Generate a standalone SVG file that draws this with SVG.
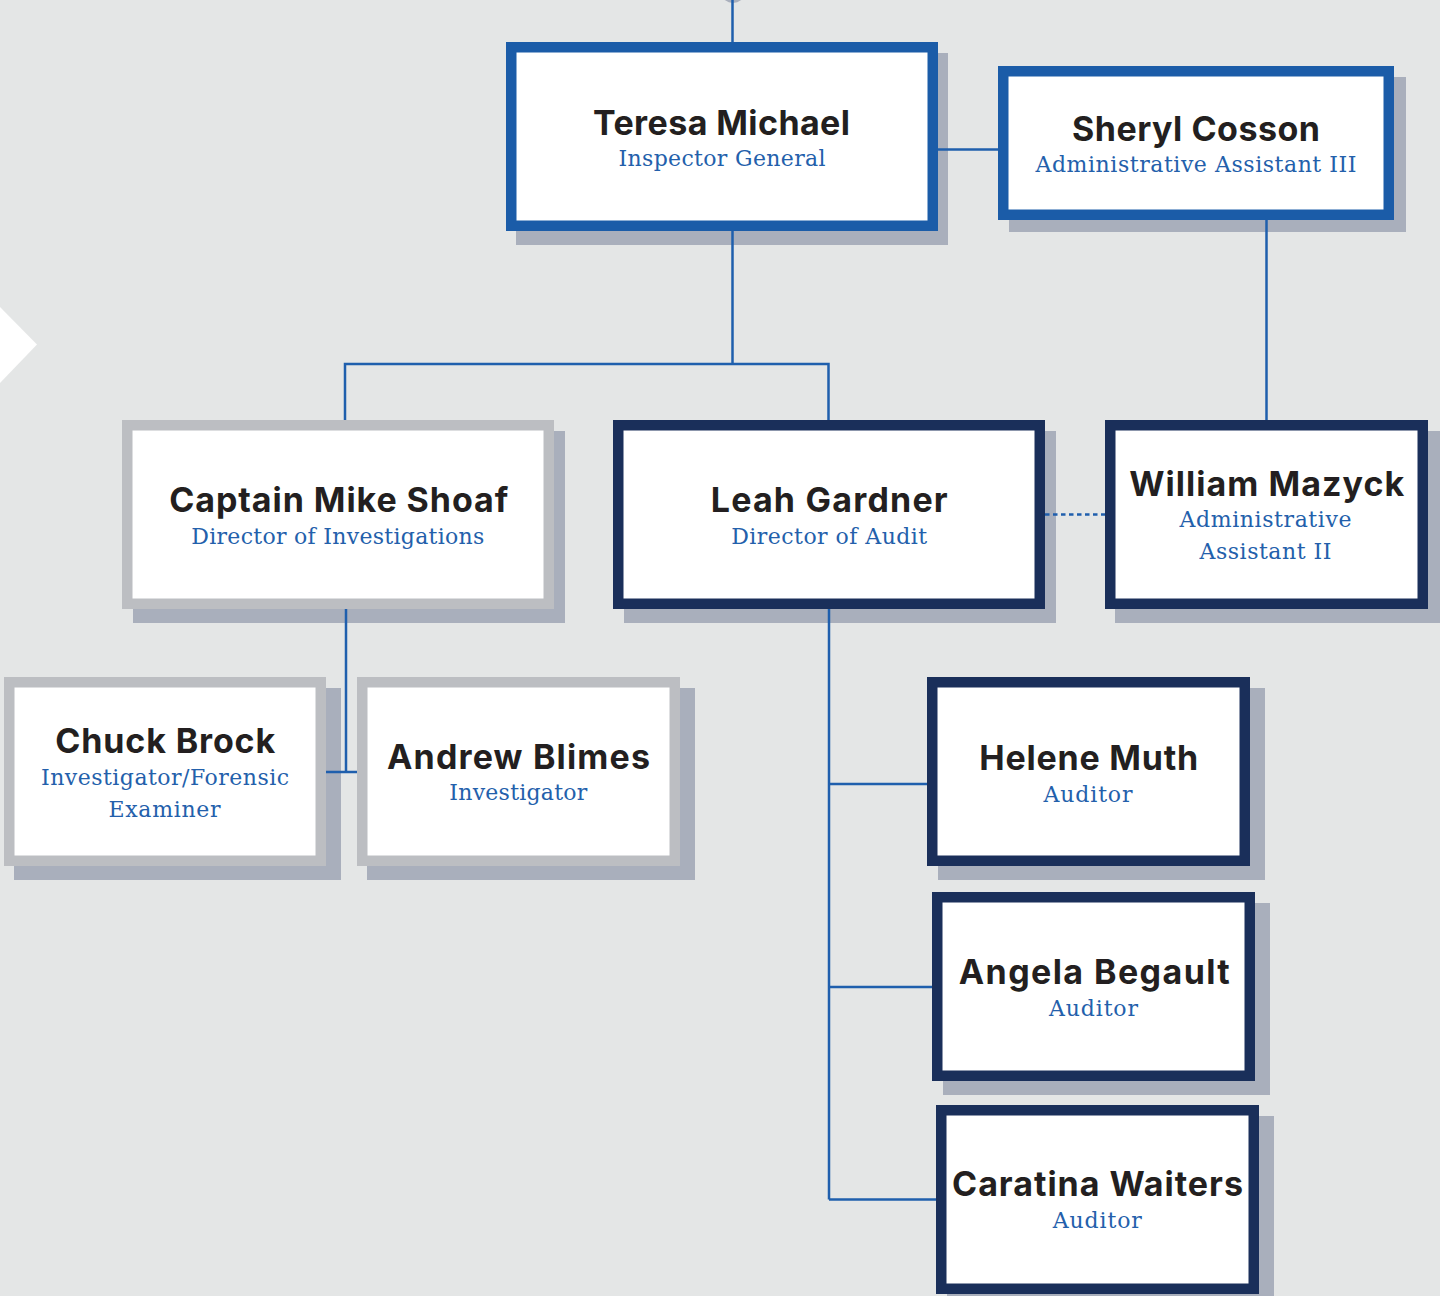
<svg xmlns="http://www.w3.org/2000/svg" width="1440" height="1296" viewBox="0 0 1440 1296">
<style>
.bg{fill:#e4e6e6}
.sh{fill:#a9afbc}
.box{fill:#ffffff;stroke-width:10.5}
.blue{stroke:#1b5ca8}
.navy{stroke:#1a2f5a}
.grey{stroke:#bcbec2}
.ln{fill:none;stroke:#1f5fad;stroke-width:2.5}
.dot{fill:none;stroke:#1f5fad;stroke-width:2.5;stroke-dasharray:4.5 3.5}
.nm{font-family:Inter,"Open Sans","Liberation Sans",sans-serif;font-weight:700;font-size:34px;fill:#231f20;text-anchor:middle}
.tt{font-family:"DejaVu Serif","Liberation Serif",serif;font-size:22px;fill:#2360ab;text-anchor:middle}
</style>
<rect class="bg" x="0" y="0" width="1440" height="1296"/>
<polygon points="0,307 37,344.5 0,383" fill="#ffffff"/>
<ellipse cx="733" cy="-6" rx="11" ry="9" fill="#a9afbc"/>
<g id="teresa-michael">
<rect class="sh" x="516" y="53" width="432" height="192"/>
<rect class="box blue" x="511.25" y="47.25" width="421.5" height="178.5"/>
<text class="nm" x="721.5" y="135" textLength="257">Teresa Michael</text>
<text class="tt" x="722" y="166" textLength="207">Inspector General</text>
</g>
<g id="sheryl-cosson">
<rect class="sh" x="1009" y="77" width="397" height="155"/>
<rect class="box blue" x="1003.25" y="71.25" width="385.5" height="143.5"/>
<text class="nm" x="1196" y="141" textLength="248">Sheryl Cosson</text>
<text class="tt" x="1196" y="172" textLength="321">Administrative Assistant III</text>
</g>
<g id="mike-shoaf">
<rect class="sh" x="133" y="431" width="432" height="192"/>
<rect class="box grey" x="127.25" y="425.25" width="421.5" height="178.5"/>
<text class="nm" x="338.7" y="511.7" textLength="339">Captain Mike Shoaf</text>
<text class="tt" x="337.8" y="544" textLength="293">Director of Investigations</text>
</g>
<g id="leah-gardner">
<rect class="sh" x="624" y="431" width="432" height="192"/>
<rect class="box navy" x="618.25" y="425.25" width="421.5" height="178.5"/>
<text class="nm" x="829.2" y="511.7" textLength="237">Leah Gardner</text>
<text class="tt" x="829.2" y="543.5" textLength="196">Director of Audit</text>
</g>
<g id="william-mazyck">
<rect class="sh" x="1115" y="431" width="325" height="192"/>
<rect class="box navy" x="1110.25" y="425.25" width="312.5" height="178.5"/>
<text class="nm" x="1266.7" y="496" textLength="275">William Mazyck</text>
<text class="tt" x="1265.5" y="527.3" textLength="172">Administrative</text>
<text class="tt" x="1265.5" y="559.3" textLength="132">Assistant II</text>
</g>
<g id="chuck-brock">
<rect class="sh" x="14" y="688" width="327" height="192"/>
<rect class="box grey" x="9.25" y="682.25" width="311.5" height="178.5"/>
<text class="nm" x="165.2" y="752.7" textLength="220">Chuck Brock</text>
<text class="tt" x="165" y="785" textLength="248">Investigator/Forensic</text>
<text class="tt" x="164.5" y="816.7" textLength="112">Examiner</text>
</g>
<g id="andrew-blimes">
<rect class="sh" x="367" y="688" width="328" height="192"/>
<rect class="box grey" x="362.25" y="682.25" width="312.5" height="178.5"/>
<text class="nm" x="518.5" y="769" textLength="263">Andrew Blimes</text>
<text class="tt" x="518.3" y="800" textLength="138">Investigator</text>
</g>
<g id="helene-muth">
<rect class="sh" x="938" y="688" width="327" height="192"/>
<rect class="box navy" x="932.25" y="682.25" width="312.5" height="178.5"/>
<text class="nm" x="1088.7" y="770" textLength="219">Helene Muth</text>
<text class="tt" x="1088" y="802.3" textLength="89">Auditor</text>
</g>
<g id="angela-begault">
<rect class="sh" x="943" y="903" width="327" height="192"/>
<rect class="box navy" x="937.25" y="897.25" width="312.5" height="178.5"/>
<text class="nm" x="1094.3" y="984" textLength="271">Angela Begault</text>
<text class="tt" x="1093.5" y="1016" textLength="89">Auditor</text>
</g>
<g id="caratina-waiters">
<rect class="sh" x="947" y="1116" width="327" height="193"/>
<rect class="box navy" x="941.25" y="1110.25" width="312.5" height="178.5"/>
<text class="nm" x="1097.5" y="1196" textLength="291">Caratina Waiters</text>
<text class="tt" x="1097.3" y="1228.3" textLength="89">Auditor</text>
</g>
<g id="connectors">
<path class="ln" d="M732.5 0 V42"/>
<path class="ln" d="M938 149.5 H998"/>
<path class="ln" d="M732.5 231 V364"/>
<path class="ln" d="M345 420 V364 H828.5 V420"/>
<path class="ln" d="M1266.5 220 V420"/>
<path class="ln" d="M346 609 V772"/>
<path class="ln" d="M326 772 H357"/>
<path class="ln" d="M829 609 V1199.5"/>
<path class="ln" d="M829 784 H927"/>
<path class="ln" d="M829 987 H932"/>
<path class="ln" d="M829 1199.5 H936"/>
<path class="dot" d="M1045 514.5 H1105"/>
</g>
</svg>
